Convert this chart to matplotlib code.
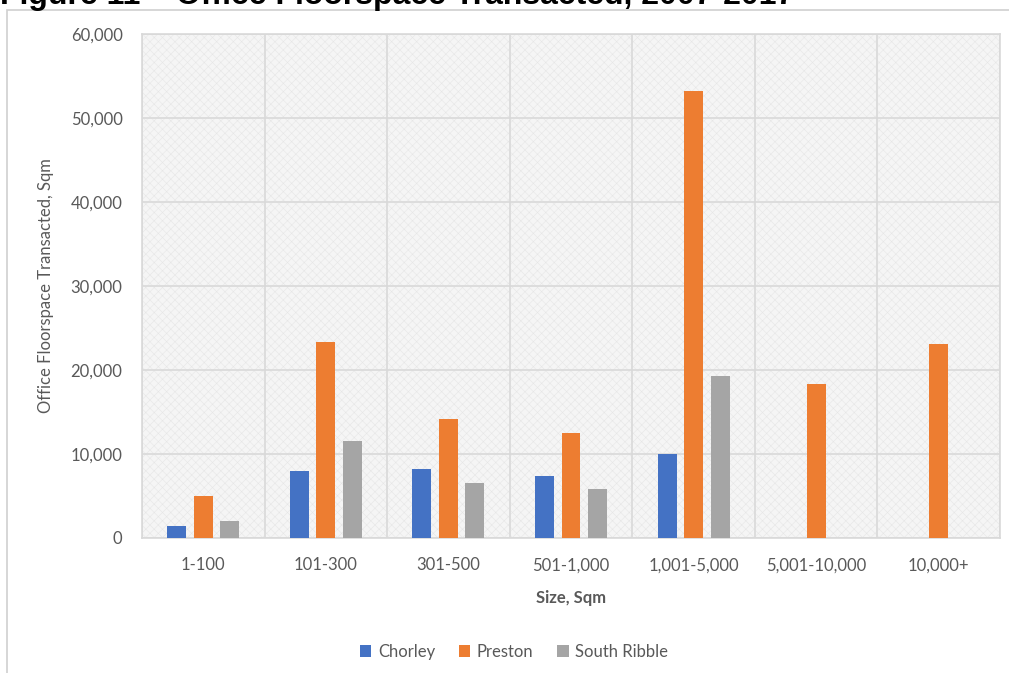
import matplotlib

matplotlib.use("Agg")
import matplotlib.pyplot as plt
import numpy as np
from matplotlib.patches import Rectangle
from matplotlib.ticker import FuncFormatter, MultipleLocator

# Data
sizes = ["1-100", "101-300", "301-500", "501-1,000", "1,001-5,000", "5,001-10,000", "10,000+"]
chorley = [1400, 8000, 8250, 7400, 10000, 0, 0]
preston = [5050, 23300, 14200, 12500, 53200, 18300, 23150]
south_ribble = [2000, 11500, 6500, 5850, 19300, 0, 0]
series_names = ["Chorley", "Preston", "South Ribble"]

colors = ["#4472C4", "#ED7D31", "#A5A5A5"]
text_gray = "#595959"
grid_gray = "#d9d9d9"
font = ["Lato", "DejaVu Sans"]

plt.rcParams["font.family"] = font
plt.rcParams["hatch.linewidth"] = 0.4

fig = plt.figure(figsize=(10.09, 6.73), dpi=100)
fig.patch.set_facecolor("white")

# chart frame (runs off the right and bottom of the crop)
fig.patches.append(Rectangle((7 / 1009, -0.05), 1.1, 1 - 10 / 673 + 0.05,
                             transform=fig.transFigure, fill=False,
                             edgecolor="#d0d0d0", linewidth=1.2, zorder=0))

# report caption, clipped by the top edge as in the source crop
fig.text(0.0, 1 - 4 / 673, "Figure 11 \u2013 Office Floorspace Transacted, 2007-2017",
         family=["Liberation Sans", "DejaVu Sans"], fontweight="bold", fontsize=23,
         va="baseline", ha="left", color="black")

ax = fig.add_axes([142 / 1009, 1 - 538 / 673, (1000 - 142) / 1009, (538 - 34) / 673])
ax.set_facecolor("#f5f5f5")
ax.add_patch(Rectangle((0, 0), 1, 1, transform=ax.transAxes, facecolor="none",
                       edgecolor="#e6e6e6", hatch="xxxx", linewidth=0, zorder=0))

x = np.arange(len(sizes))
width = 0.155
offset = 0.216
for i, (vals, name) in enumerate(zip([chorley, preston, south_ribble], series_names)):
    ax.bar(x + (i - 1) * offset, vals, width=width, color=colors[i], label=name, zorder=3)

ax.set_xlim(-0.5, len(sizes) - 0.5)
ax.set_ylim(0, 60000)
ax.yaxis.set_major_locator(MultipleLocator(10000))
ax.yaxis.set_major_formatter(FuncFormatter(lambda v, _: f"{v:,.0f}"))
ax.set_xticks(x, sizes)
ax.set_xticks(np.arange(len(sizes) + 1) - 0.5, minor=True)

ax.grid(axis="y", which="major", color=grid_gray, linewidth=1.2, zorder=1)
ax.grid(axis="x", which="minor", color=grid_gray, linewidth=1.2, zorder=1)
ax.grid(axis="x", which="major", visible=False)
ax.set_axisbelow(True)

ax.tick_params(axis="both", which="both", length=0, colors=text_gray, labelsize=12)
ax.tick_params(axis="y", pad=14)
ax.tick_params(axis="x", pad=14)
for spine in ax.spines.values():
    spine.set_color(grid_gray)
    spine.set_linewidth(1.2)

ax.set_ylabel("Office Floorspace Transacted, Sqm", color=text_gray, fontsize=12, labelpad=12)
ax.set_xlabel("Size, Sqm", color=text_gray, fontsize=12, fontweight="bold", labelpad=12)

leg = fig.legend(loc="center", bbox_to_anchor=(514 / 1009, 1 - 652 / 673), ncol=3,
                 frameon=False, fontsize=12, handlelength=0.7, handleheight=0.7,
                 handletextpad=0.4, columnspacing=1.4)
for t in leg.get_texts():
    t.set_color(text_gray)

fig.savefig("out.png", dpi=100, facecolor="white")
plt.close(fig)
